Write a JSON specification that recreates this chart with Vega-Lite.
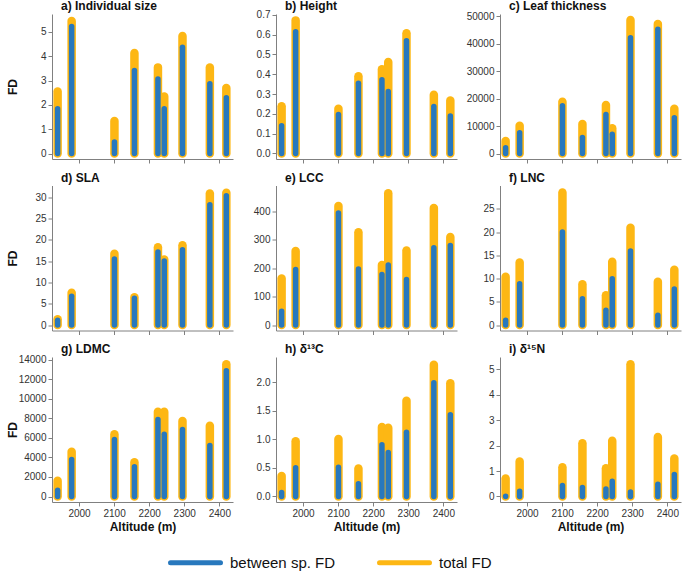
{
  "$schema": "https://vega.github.io/schema/vega-lite/v6.json",
  "padding": {"left": 6, "top": -1, "right": 2, "bottom": 0},
  "data": {"values": [
    {"trait": "size", "altitude": 1939, "between": 1.84, "total": 2.55},
    {"trait": "size", "altitude": 1979, "between": 5.22, "total": 5.45},
    {"trait": "size", "altitude": 2101, "between": 0.47, "total": 1.34},
    {"trait": "size", "altitude": 2158, "between": 3.41, "total": 4.13},
    {"trait": "size", "altitude": 2225, "between": 3.06, "total": 3.54},
    {"trait": "size", "altitude": 2243, "between": 1.84, "total": 2.34},
    {"trait": "size", "altitude": 2295, "between": 4.37, "total": 4.83},
    {"trait": "size", "altitude": 2373, "between": 2.87, "total": 3.53},
    {"trait": "size", "altitude": 2420, "between": 2.29, "total": 2.69},
    {"trait": "height", "altitude": 1939, "between": 0.14, "total": 0.238},
    {"trait": "height", "altitude": 1979, "between": 0.615, "total": 0.672},
    {"trait": "height", "altitude": 2101, "between": 0.197, "total": 0.226},
    {"trait": "height", "altitude": 2158, "between": 0.355, "total": 0.39},
    {"trait": "height", "altitude": 2225, "between": 0.372, "total": 0.425},
    {"trait": "height", "altitude": 2243, "between": 0.313, "total": 0.462},
    {"trait": "height", "altitude": 2295, "between": 0.569, "total": 0.607},
    {"trait": "height", "altitude": 2373, "between": 0.237, "total": 0.297},
    {"trait": "height", "altitude": 2420, "between": 0.189, "total": 0.267},
    {"trait": "thickness", "altitude": 1939, "between": 2060, "total": 4550},
    {"trait": "thickness", "altitude": 1979, "between": 7530, "total": 10130},
    {"trait": "thickness", "altitude": 2101, "between": 17360, "total": 18870},
    {"trait": "thickness", "altitude": 2158, "between": 5830, "total": 10740},
    {"trait": "thickness", "altitude": 2225, "between": 14200, "total": 17660},
    {"trait": "thickness", "altitude": 2243, "between": 7040, "total": 9160},
    {"trait": "thickness", "altitude": 2295, "between": 42110, "total": 48600},
    {"trait": "thickness", "altitude": 2373, "between": 45270, "total": 47150},
    {"trait": "thickness", "altitude": 2420, "between": 12990, "total": 16320},
    {"trait": "SLA", "altitude": 1939, "between": 1.1, "total": 1.37},
    {"trait": "SLA", "altitude": 1979, "between": 6.74, "total": 7.56},
    {"trait": "SLA", "altitude": 2101, "between": 15.5, "total": 16.72},
    {"trait": "SLA", "altitude": 2158, "between": 6.26, "total": 6.54},
    {"trait": "SLA", "altitude": 2225, "between": 17.15, "total": 18.28},
    {"trait": "SLA", "altitude": 2243, "between": 15.04, "total": 15.39},
    {"trait": "SLA", "altitude": 2295, "between": 17.7, "total": 18.76},
    {"trait": "SLA", "altitude": 2373, "between": 28.27, "total": 30.9},
    {"trait": "SLA", "altitude": 2420, "between": 30.4, "total": 31.1},
    {"trait": "LCC", "altitude": 1939, "between": 48, "total": 164},
    {"trait": "LCC", "altitude": 1979, "between": 195, "total": 260},
    {"trait": "LCC", "altitude": 2101, "between": 394, "total": 419},
    {"trait": "LCC", "altitude": 2158, "between": 197, "total": 326},
    {"trait": "LCC", "altitude": 2225, "between": 178, "total": 211},
    {"trait": "LCC", "altitude": 2243, "between": 211, "total": 464},
    {"trait": "LCC", "altitude": 2295, "between": 160, "total": 262},
    {"trait": "LCC", "altitude": 2373, "between": 272, "total": 412},
    {"trait": "LCC", "altitude": 2420, "between": 280, "total": 310},
    {"trait": "LNC", "altitude": 1939, "between": 1.0, "total": 10.38},
    {"trait": "LNC", "altitude": 1979, "between": 8.91, "total": 13.47},
    {"trait": "LNC", "altitude": 2101, "between": 20.04, "total": 28.56},
    {"trait": "LNC", "altitude": 2158, "between": 5.67, "total": 8.8},
    {"trait": "LNC", "altitude": 2225, "between": 3.16, "total": 6.43},
    {"trait": "LNC", "altitude": 2243, "between": 9.98, "total": 13.61},
    {"trait": "LNC", "altitude": 2295, "between": 15.95, "total": 20.94},
    {"trait": "LNC", "altitude": 2373, "between": 2.08, "total": 9.3},
    {"trait": "LNC", "altitude": 2420, "between": 7.76, "total": 11.89},
    {"trait": "LDMC", "altitude": 1939, "between": 649, "total": 1622},
    {"trait": "LDMC", "altitude": 1979, "between": 3790, "total": 4592},
    {"trait": "LDMC", "altitude": 2101, "between": 5838, "total": 6367},
    {"trait": "LDMC", "altitude": 2158, "between": 3039, "total": 3499},
    {"trait": "LDMC", "altitude": 2225, "between": 7887, "total": 8689},
    {"trait": "LDMC", "altitude": 2243, "between": 6385, "total": 8689},
    {"trait": "LDMC", "altitude": 2295, "between": 6863, "total": 7733},
    {"trait": "LDMC", "altitude": 2373, "between": 5224, "total": 7255},
    {"trait": "LDMC", "altitude": 2420, "between": 12871, "total": 13539},
    {"trait": "d13C", "altitude": 1939, "between": 0.07, "total": 0.36},
    {"trait": "d13C", "altitude": 1979, "between": 0.503, "total": 0.968},
    {"trait": "d13C", "altitude": 2101, "between": 0.515, "total": 1.009},
    {"trait": "d13C", "altitude": 2158, "between": 0.223, "total": 0.489},
    {"trait": "d13C", "altitude": 2225, "between": 0.907, "total": 1.22},
    {"trait": "d13C", "altitude": 2243, "between": 0.772, "total": 1.208},
    {"trait": "d13C", "altitude": 2295, "between": 1.129, "total": 1.68},
    {"trait": "d13C", "altitude": 2373, "between": 1.994, "total": 2.313},
    {"trait": "d13C", "altitude": 2420, "between": 1.433, "total": 1.986},
    {"trait": "d15N", "altitude": 1939, "between": 0.01, "total": 0.71},
    {"trait": "d15N", "altitude": 1979, "between": 0.21, "total": 1.37},
    {"trait": "d15N", "altitude": 2101, "between": 0.43, "total": 1.15},
    {"trait": "d15N", "altitude": 2158, "between": 0.35, "total": 2.09},
    {"trait": "d15N", "altitude": 2225, "between": 0.29, "total": 1.11},
    {"trait": "d15N", "altitude": 2243, "between": 0.6, "total": 2.19},
    {"trait": "d15N", "altitude": 2295, "between": 0.18, "total": 5.19},
    {"trait": "d15N", "altitude": 2373, "between": 0.48, "total": 2.34},
    {"trait": "d15N", "altitude": 2420, "between": 0.86, "total": 1.49}
  ]},
  "config": {
    "font": "Liberation Sans",
    "view": {"stroke": null},
    "axis": {"grid": false, "labelFont": "Liberation Sans", "labelFontSize": 10, "labelColor": "#333333", "domainColor": "#808080", "tickColor": "#808080", "tickSize": 4, "labelPadding": 2, "titleFont": "Liberation Sans", "titleFontSize": 12, "titleFontWeight": "bold", "titleColor": "#111111"},
    "axisY": {"titleX": -40, "titleBaseline": "middle", "titleAlign": "center"},
    "axisX": {"titlePadding": 3},
    "title": {"font": "Liberation Sans", "fontSize": 12, "fontWeight": "bold", "anchor": "start", "frame": "group", "dx": 9, "offset": 1, "baseline": "alphabetic", "color": "#111111"},
    "legend": {"orient": "none", "legendX": 116, "legendY": 521, "direction": "horizontal", "labelFont": "Liberation Sans", "labelFontSize": 15, "labelColor": "#111111", "symbolType": "stroke", "symbolStrokeWidth": 5, "symbolSize": 2500, "labelOffset": 7, "columnPadding": 33}
  },
  "spacing": 7.5,
  "resolve": {"scale": {"color": "shared", "x": "independent", "y": "independent"}},
  "vconcat": [
    {"hconcat": [
      {"width": 181, "height": 145, "title": {"text": "a) Individual size"},
       "transform": [{"filter": "datum.trait === 'size'"}],
       "encoding": {"x": {"field": "altitude", "type": "quantitative", "scale": {"domain": [1923, 2439], "nice": false, "zero": false}, "axis": {"values": [2000, 2100, 2200, 2300, 2400], "labels": false, "title": null}}},
       "layer": [
         {"mark": {"type": "rule", "strokeWidth": 8.5, "strokeCap": "round"}, "encoding": {"y": {"field": "total", "type": "quantitative", "scale": {"domain": [-0.226, 5.734], "nice": false, "zero": false}, "axis": {"values": [0, 1, 2, 3, 4, 5], "title": "FD"}}, "y2": {"datum": 0}, "color": {"datum": "total FD", "scale": {"domain": ["between sp. FD", "total FD"], "range": ["#2878bd", "#fdb714"]}, "legend": {"title": null, "encode": {"symbols": {"update": {"strokeCap": {"value": "round"}}}}}}}},
         {"mark": {"type": "rule", "strokeWidth": 5.5, "strokeCap": "round"}, "encoding": {"y": {"field": "between", "type": "quantitative", "axis": {"values": [0, 1, 2, 3, 4, 5], "title": "FD"}}, "y2": {"datum": 0}, "color": {"datum": "between sp. FD"}}}
       ]},
      {"width": 181, "height": 145, "title": {"text": "b) Height", "offset": -3.2},
       "transform": [{"filter": "datum.trait === 'height'"}],
       "encoding": {"x": {"field": "altitude", "type": "quantitative", "scale": {"domain": [1923, 2439], "nice": false, "zero": false}, "axis": {"values": [2000, 2100, 2200, 2300, 2400], "labels": false, "title": null}}},
       "layer": [
         {"mark": {"type": "rule", "strokeWidth": 8.5, "strokeCap": "round"}, "encoding": {"y": {"field": "total", "type": "quantitative", "scale": {"domain": [-0.0278, 0.7042], "nice": false, "zero": false}, "axis": {"values": [0, 0.1, 0.2, 0.3, 0.4, 0.5, 0.6, 0.7], "format": ".1f", "title": null}}, "y2": {"datum": 0}, "color": {"datum": "total FD"}}},
         {"mark": {"type": "rule", "strokeWidth": 5.5, "strokeCap": "round"}, "encoding": {"y": {"field": "between", "type": "quantitative", "axis": {"values": [0, 0.1, 0.2, 0.3, 0.4, 0.5, 0.6, 0.7], "format": ".1f", "title": null}}, "y2": {"datum": 0}, "color": {"datum": "between sp. FD"}}}
       ]},
      {"width": 181, "height": 145, "title": {"text": "c) Leaf thickness", "offset": -1.8},
       "transform": [{"filter": "datum.trait === 'thickness'"}],
       "encoding": {"x": {"field": "altitude", "type": "quantitative", "scale": {"domain": [1923, 2439], "nice": false, "zero": false}, "axis": {"values": [2000, 2100, 2200, 2300, 2400], "labels": false, "title": null}}},
       "layer": [
         {"mark": {"type": "rule", "strokeWidth": 8.5, "strokeCap": "round"}, "encoding": {"y": {"field": "total", "type": "quantitative", "scale": {"domain": [-2002, 50783], "nice": false, "zero": false}, "axis": {"values": [0, 10000, 20000, 30000, 40000, 50000], "format": "d", "title": null}}, "y2": {"datum": 0}, "color": {"datum": "total FD"}}},
         {"mark": {"type": "rule", "strokeWidth": 5.5, "strokeCap": "round"}, "encoding": {"y": {"field": "between", "type": "quantitative", "axis": {"values": [0, 10000, 20000, 30000, 40000, 50000], "format": "d", "title": null}}, "y2": {"datum": 0}, "color": {"datum": "between sp. FD"}}}
       ]}
    ], "bounds": "flush", "spacing": 43, "resolve": {"scale": {"color": "shared", "x": "independent", "y": "independent"}}},
    {"hconcat": [
      {"width": 181, "height": 145, "title": {"text": "d) SLA"},
       "transform": [{"filter": "datum.trait === 'SLA'"}],
       "encoding": {"x": {"field": "altitude", "type": "quantitative", "scale": {"domain": [1923, 2439], "nice": false, "zero": false}, "axis": {"values": [2000, 2100, 2200, 2300, 2400], "labels": false, "title": null}}},
       "layer": [
         {"mark": {"type": "rule", "strokeWidth": 8.5, "strokeCap": "round"}, "encoding": {"y": {"field": "total", "type": "quantitative", "scale": {"domain": [-1.292, 32.78], "nice": false, "zero": false}, "axis": {"values": [0, 5, 10, 15, 20, 25, 30], "title": "FD"}}, "y2": {"datum": 0}, "color": {"datum": "total FD"}}},
         {"mark": {"type": "rule", "strokeWidth": 5.5, "strokeCap": "round"}, "encoding": {"y": {"field": "between", "type": "quantitative", "axis": {"values": [0, 5, 10, 15, 20, 25, 30], "title": "FD"}}, "y2": {"datum": 0}, "color": {"datum": "between sp. FD"}}}
       ]},
      {"width": 181, "height": 145, "title": {"text": "e) LCC"},
       "transform": [{"filter": "datum.trait === 'LCC'"}],
       "encoding": {"x": {"field": "altitude", "type": "quantitative", "scale": {"domain": [1923, 2439], "nice": false, "zero": false}, "axis": {"values": [2000, 2100, 2200, 2300, 2400], "labels": false, "title": null}}},
       "layer": [
         {"mark": {"type": "rule", "strokeWidth": 8.5, "strokeCap": "round"}, "encoding": {"y": {"field": "total", "type": "quantitative", "scale": {"domain": [-19.35, 490.9], "nice": false, "zero": false}, "axis": {"values": [0, 100, 200, 300, 400], "title": null}}, "y2": {"datum": 0}, "color": {"datum": "total FD"}}},
         {"mark": {"type": "rule", "strokeWidth": 5.5, "strokeCap": "round"}, "encoding": {"y": {"field": "between", "type": "quantitative", "axis": {"values": [0, 100, 200, 300, 400], "title": null}}, "y2": {"datum": 0}, "color": {"datum": "between sp. FD"}}}
       ]},
      {"width": 181, "height": 145, "title": {"text": "f) LNC"},
       "transform": [{"filter": "datum.trait === 'LNC'"}],
       "encoding": {"x": {"field": "altitude", "type": "quantitative", "scale": {"domain": [1923, 2439], "nice": false, "zero": false}, "axis": {"values": [2000, 2100, 2200, 2300, 2400], "labels": false, "title": null}}},
       "layer": [
         {"mark": {"type": "rule", "strokeWidth": 8.5, "strokeCap": "round"}, "encoding": {"y": {"field": "total", "type": "quantitative", "scale": {"domain": [-1.185, 30.06], "nice": false, "zero": false}, "axis": {"values": [0, 5, 10, 15, 20, 25], "title": null}}, "y2": {"datum": 0}, "color": {"datum": "total FD"}}},
         {"mark": {"type": "rule", "strokeWidth": 5.5, "strokeCap": "round"}, "encoding": {"y": {"field": "between", "type": "quantitative", "axis": {"values": [0, 5, 10, 15, 20, 25], "title": null}}, "y2": {"datum": 0}, "color": {"datum": "between sp. FD"}}}
       ]}
    ], "bounds": "flush", "spacing": 43, "resolve": {"scale": {"color": "shared", "x": "independent", "y": "independent"}}},
    {"hconcat": [
      {"width": 181, "height": 145, "title": {"text": "g) LDMC", "offset": -1.2},
       "transform": [{"filter": "datum.trait === 'LDMC'"}],
       "encoding": {"x": {"field": "altitude", "type": "quantitative", "scale": {"domain": [1923, 2439], "nice": false, "zero": false}, "axis": {"values": [2000, 2100, 2200, 2300, 2400], "format": "d", "title": "Altitude (m)"}}},
       "layer": [
         {"mark": {"type": "rule", "strokeWidth": 8.5, "strokeCap": "round"}, "encoding": {"y": {"field": "total", "type": "quantitative", "scale": {"domain": [-563, 14289], "nice": false, "zero": false}, "axis": {"values": [0, 2000, 4000, 6000, 8000, 10000, 12000, 14000], "format": "d", "title": "FD"}}, "y2": {"datum": 0}, "color": {"datum": "total FD"}}},
         {"mark": {"type": "rule", "strokeWidth": 5.5, "strokeCap": "round"}, "encoding": {"y": {"field": "between", "type": "quantitative", "axis": {"values": [0, 2000, 4000, 6000, 8000, 10000, 12000, 14000], "format": "d", "title": "FD"}}, "y2": {"datum": 0}, "color": {"datum": "between sp. FD"}}}
       ]},
      {"width": 181, "height": 145, "title": {"text": "h) δ¹³C"},
       "transform": [{"filter": "datum.trait === 'd13C'"}],
       "encoding": {"x": {"field": "altitude", "type": "quantitative", "scale": {"domain": [1923, 2439], "nice": false, "zero": false}, "axis": {"values": [2000, 2100, 2200, 2300, 2400], "format": "d", "title": "Altitude (m)"}}},
       "layer": [
         {"mark": {"type": "rule", "strokeWidth": 8.5, "strokeCap": "round"}, "encoding": {"y": {"field": "total", "type": "quantitative", "scale": {"domain": [-0.0965, 2.447], "nice": false, "zero": false}, "axis": {"values": [0, 0.5, 1, 1.5, 2], "format": ".1f", "title": null}}, "y2": {"datum": 0}, "color": {"datum": "total FD"}}},
         {"mark": {"type": "rule", "strokeWidth": 5.5, "strokeCap": "round"}, "encoding": {"y": {"field": "between", "type": "quantitative", "axis": {"values": [0, 0.5, 1, 1.5, 2], "format": ".1f", "title": null}}, "y2": {"datum": 0}, "color": {"datum": "between sp. FD"}}}
       ]},
      {"width": 181, "height": 145, "title": {"text": "i) δ¹⁵N"},
       "transform": [{"filter": "datum.trait === 'd15N'"}],
       "encoding": {"x": {"field": "altitude", "type": "quantitative", "scale": {"domain": [1923, 2439], "nice": false, "zero": false}, "axis": {"values": [2000, 2100, 2200, 2300, 2400], "format": "d", "title": "Altitude (m)"}}},
       "layer": [
         {"mark": {"type": "rule", "strokeWidth": 8.5, "strokeCap": "round"}, "encoding": {"y": {"field": "total", "type": "quantitative", "scale": {"domain": [-0.216, 5.477], "nice": false, "zero": false}, "axis": {"values": [0, 1, 2, 3, 4, 5], "title": null}}, "y2": {"datum": 0}, "color": {"datum": "total FD"}}},
         {"mark": {"type": "rule", "strokeWidth": 5.5, "strokeCap": "round"}, "encoding": {"y": {"field": "between", "type": "quantitative", "axis": {"values": [0, 1, 2, 3, 4, 5], "title": null}}, "y2": {"datum": 0}, "color": {"datum": "between sp. FD"}}}
       ]}
    ], "bounds": "flush", "spacing": 43, "resolve": {"scale": {"color": "shared", "x": "independent", "y": "independent"}}}
  ]
}
